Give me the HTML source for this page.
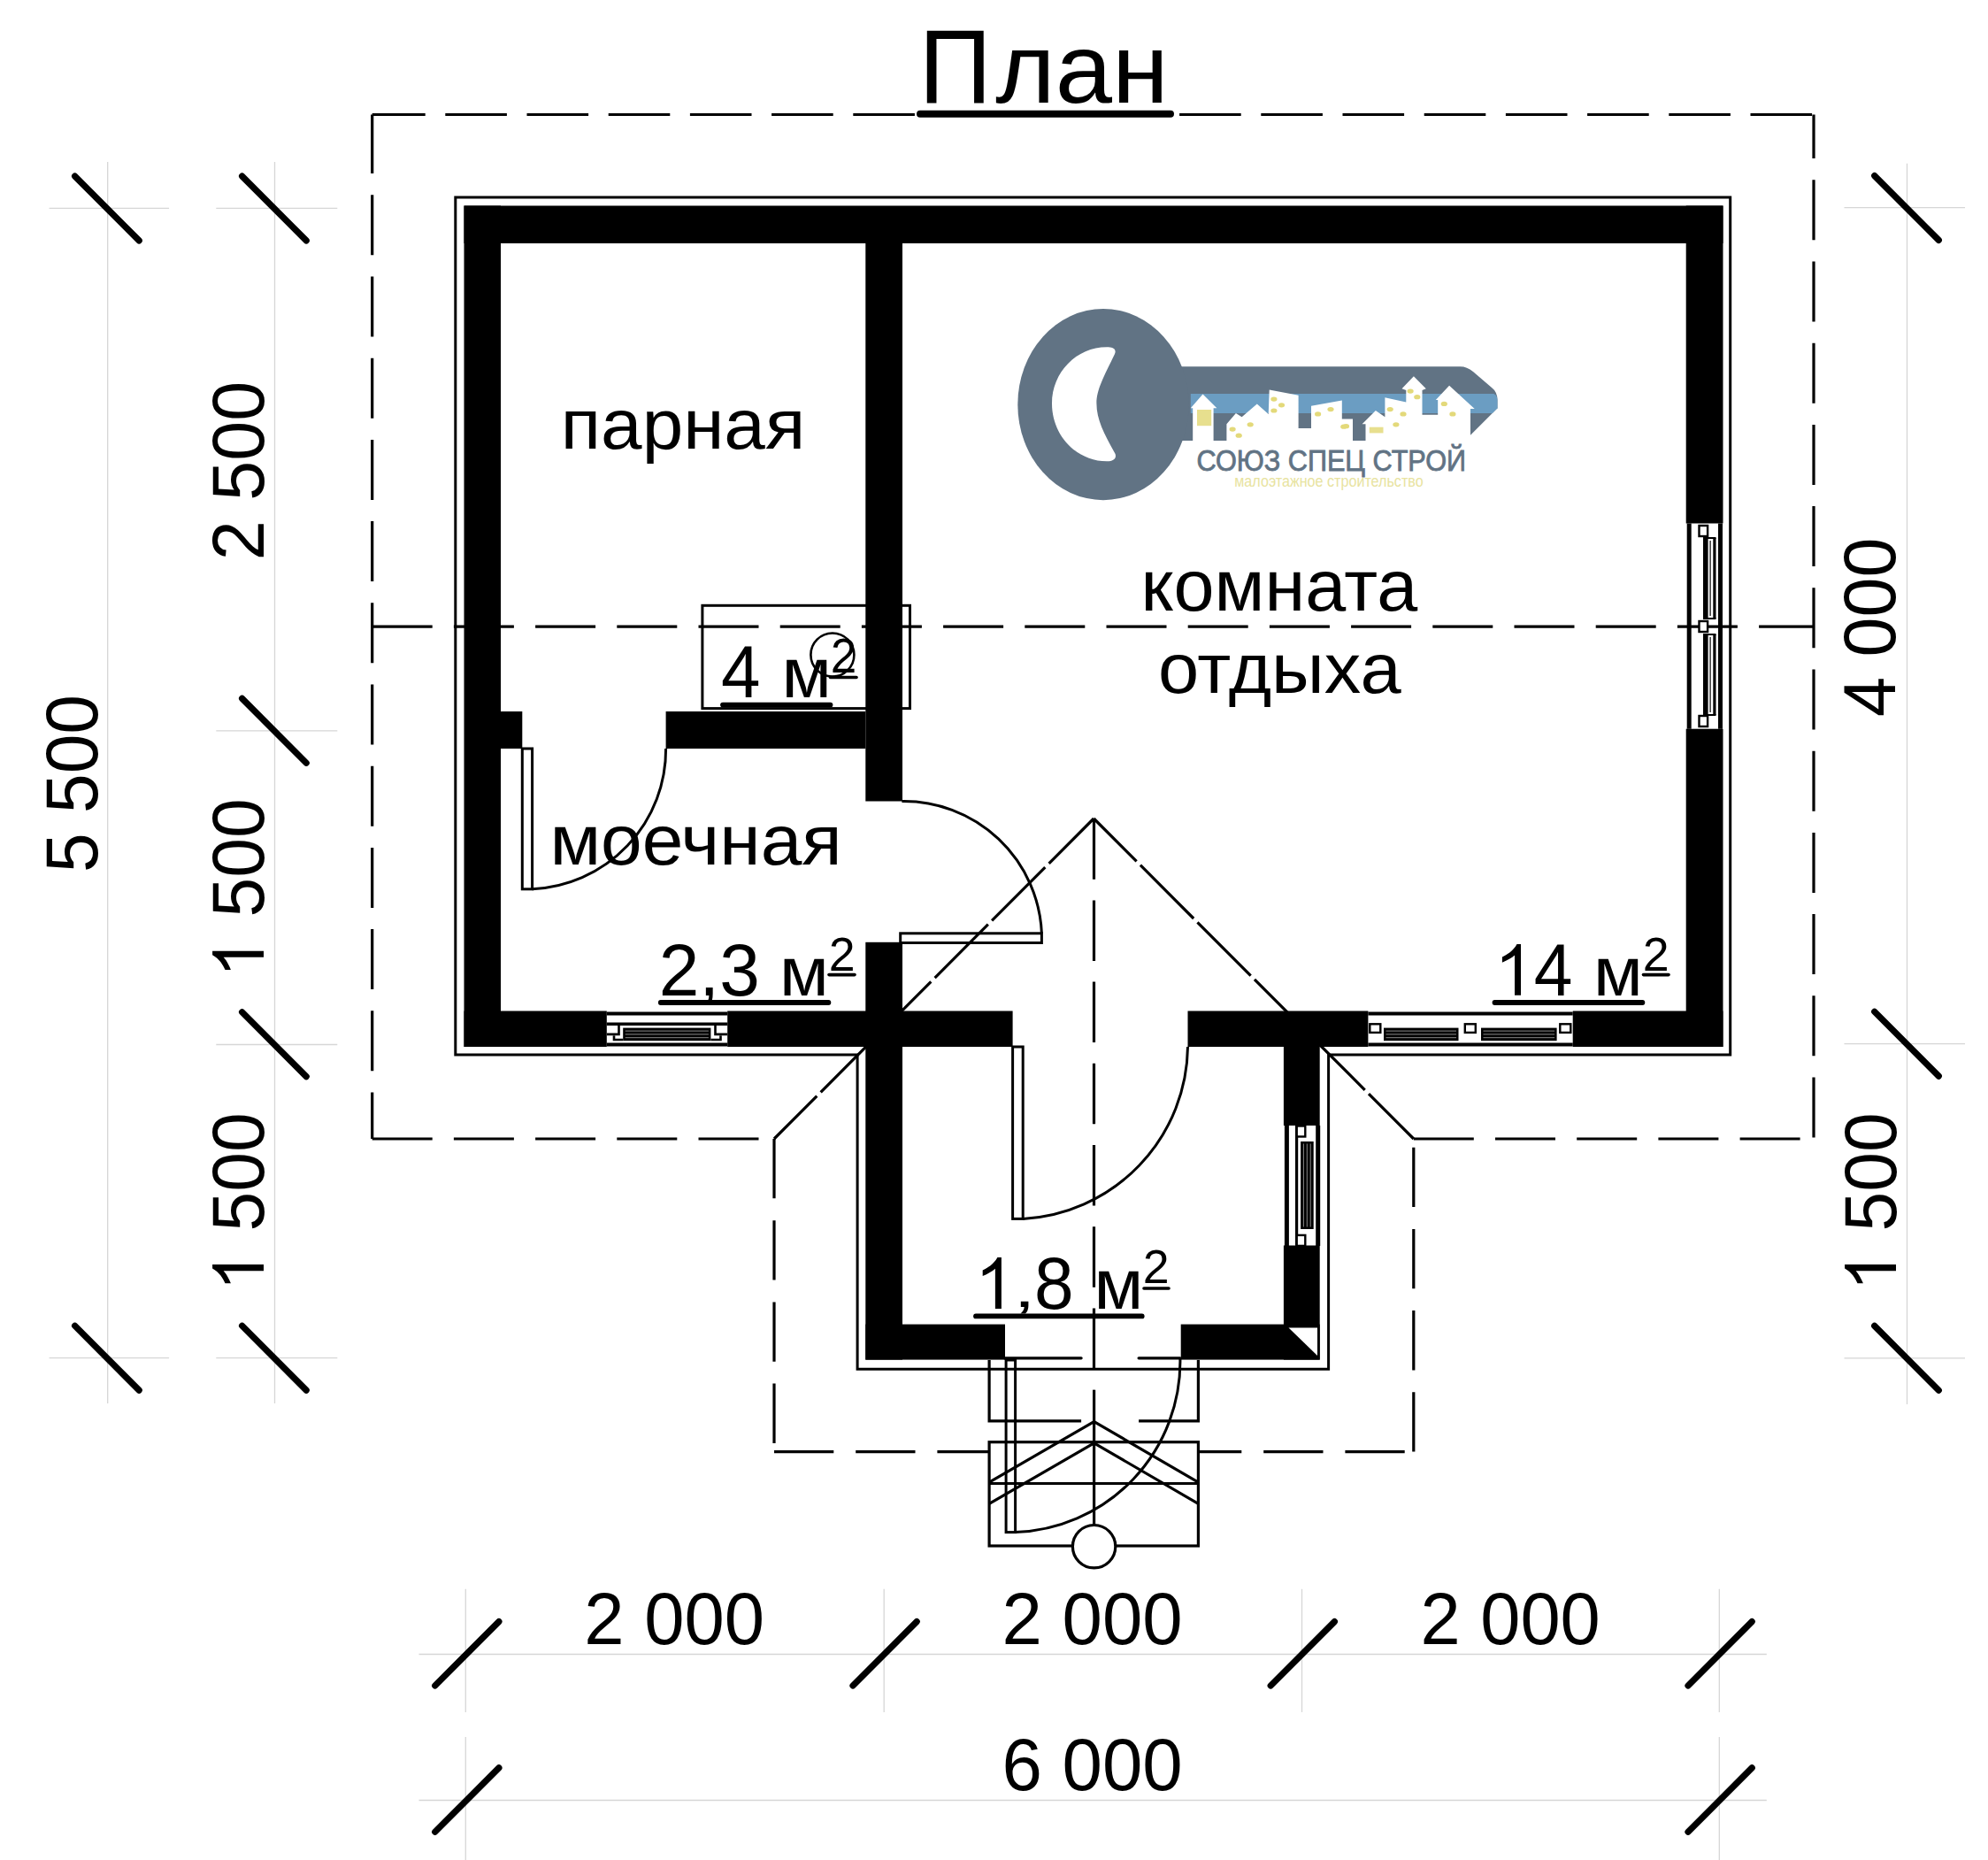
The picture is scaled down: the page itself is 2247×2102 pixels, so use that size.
<!DOCTYPE html><html><head><meta charset="utf-8"><style>html,body{margin:0;padding:0;background:#fff;}svg{display:block;}text{font-family:"Liberation Sans",sans-serif;}</style></head><body>
<svg width="2247" height="2102" viewBox="0 0 2247 2102">
<rect x="0" y="0" width="2247" height="2102" fill="#fff"/>
<g stroke="#d6d6d6" stroke-width="1.3" fill="none">
<line x1="121.7" y1="183" x2="121.7" y2="1586"/>
<line x1="310.5" y1="183" x2="310.5" y2="1586"/>
<line x1="2155.5" y1="184.7" x2="2155.5" y2="1587"/>
<line x1="55.6" y1="235.3" x2="191.1" y2="235.3"/>
<line x1="55.6" y1="1534.7" x2="191.1" y2="1534.7"/>
<line x1="244.3" y1="235.3" x2="381.3" y2="235.3"/>
<line x1="244.3" y1="825.8" x2="381.3" y2="825.8"/>
<line x1="244.3" y1="1180.5" x2="381.3" y2="1180.5"/>
<line x1="244.3" y1="1534.7" x2="381.3" y2="1534.7"/>
<line x1="2084.5" y1="234.7" x2="2221" y2="234.7"/>
<line x1="2084.5" y1="1179.7" x2="2221" y2="1179.7"/>
<line x1="2084.5" y1="1534.8" x2="2221" y2="1534.8"/>
<line x1="473.5" y1="1869.5" x2="1996.8" y2="1869.5"/>
<line x1="473.5" y1="2034.5" x2="1996.8" y2="2034.5"/>
<line x1="526.3" y1="1795.8" x2="526.3" y2="1934.9"/>
<line x1="999.2" y1="1795.8" x2="999.2" y2="1934.9"/>
<line x1="1471.5" y1="1795.8" x2="1471.5" y2="1934.9"/>
<line x1="1943.3" y1="1795.8" x2="1943.3" y2="1934.9"/>
<line x1="526.3" y1="1963" x2="526.3" y2="2102"/>
<line x1="1943.3" y1="1963" x2="1943.3" y2="2102"/>
</g>
<g stroke="#000" stroke-width="7.2" stroke-linecap="round">
<line x1="84.6" y1="199.1" x2="157.2" y2="271.9"/>
<line x1="84.6" y1="1498.3" x2="157.2" y2="1571.1"/>
<line x1="273.6" y1="199.1" x2="346.2" y2="271.9"/>
<line x1="273.6" y1="789.4" x2="346.2" y2="862.2"/>
<line x1="273.6" y1="1143.8" x2="346.2" y2="1216.6"/>
<line x1="273.6" y1="1498.3" x2="346.2" y2="1571.1"/>
<line x1="2118.7" y1="198.6" x2="2191.3" y2="271.4"/>
<line x1="2118.7" y1="1143.3" x2="2191.3" y2="1216.1"/>
<line x1="2118.7" y1="1498.4" x2="2191.3" y2="1571.2"/>
<line x1="491.7" y1="1905.0" x2="563.9" y2="1832.6"/>
<line x1="964.0" y1="1905.0" x2="1036.2" y2="1832.6"/>
<line x1="1436.2" y1="1905.0" x2="1508.4" y2="1832.6"/>
<line x1="1908.0" y1="1905.0" x2="1980.2" y2="1832.6"/>
<line x1="491.7" y1="2070.3" x2="563.9" y2="1997.9"/>
<line x1="1908.0" y1="2070.3" x2="1980.2" y2="1997.9"/>
</g>
<g stroke="#000" stroke-width="3.2" fill="none">
<line x1="420.7" y1="129.5" x2="2050" y2="129.5" stroke-dasharray="69.6 22.6" stroke-dashoffset="9.6"/>
<line x1="420.7" y1="129.5" x2="420.7" y2="1287" stroke-dasharray="68 24.2" stroke-dashoffset="1.4"/>
<line x1="2050" y1="129.5" x2="2050" y2="1287" stroke-dasharray="68 24.2" stroke-dashoffset="18.4"/>
<line x1="420.7" y1="708.2" x2="2050" y2="708.2" stroke-dasharray="68 24.2" stroke-dashoffset="0"/>
<line x1="420.7" y1="1287" x2="857.5" y2="1287" stroke-dasharray="68 24.2" stroke-dashoffset="0"/>
<line x1="1597.8" y1="1287" x2="2035" y2="1287" stroke-dasharray="68 24.2" stroke-dashoffset="0"/>
<line x1="875" y1="1287" x2="875" y2="1640.6" stroke-dasharray="67.3 24.9" stroke-dashoffset="0"/>
<line x1="875" y1="1640.6" x2="1597.8" y2="1640.6" stroke-dasharray="67.3 24.9" stroke-dashoffset="0"/>
<line x1="1597.8" y1="1640.6" x2="1597.8" y2="1287" stroke-dasharray="67.3 24.9" stroke-dashoffset="0"/>
<line x1="875" y1="1287" x2="1236.3" y2="925" stroke-dasharray="68.4 6.1 85.2 6.1 85.2 6.1 85.2 6.1 85.2 6.1 85.2 6.1 85.2 6.1 85.2 6.1 85.2 6.1" stroke-dashoffset="0"/>
<line x1="1236.3" y1="925" x2="1597.8" y2="1287" stroke-dasharray="68.4 6.1 85.2 6.1 85.2 6.1 85.2 6.1 85.2 6.1 85.2 6.1 85.2 6.1 85.2 6.1 85.2 6.1" stroke-dashoffset="0"/>
<line x1="1236.5" y1="925.2" x2="1236.5" y2="1548.4" stroke-dasharray="68.5 23.7" stroke-dashoffset="0"/>
</g>
<line x1="1236.5" y1="1570.8" x2="1236.5" y2="1723" stroke="#000" stroke-width="3"/>
<rect x="793.9" y="684.3" width="234.6" height="116.3" fill="none" stroke="#000" stroke-width="3"/>
<circle cx="940.9" cy="740" r="24.5" fill="none" stroke="#000" stroke-width="2.6"/>
<path d="M514.8,223 L1955.7,223 L1955.7,1192 L1501.6,1192 L1501.6,1547.3 L969.1,1547.3 L969.1,1192 L514.8,1192 Z" fill="none" stroke="#000" stroke-width="3"/>
<g fill="#000">
<rect x="524.5" y="232.5" width="1423.0" height="42.5"/>
<rect x="524.5" y="232.5" width="41.5" height="950.5"/>
<rect x="1905.7" y="232.5" width="41.8" height="359.0"/>
<rect x="1905.7" y="823.7" width="41.8" height="359.3"/>
<rect x="524.5" y="1142.5" width="161.3" height="40.5"/>
<rect x="822.2" y="1142.5" width="322.4" height="40.5"/>
<rect x="1342.5" y="1142.5" width="203.9" height="40.5"/>
<rect x="1777.7" y="1142.5" width="169.8" height="40.5"/>
<rect x="978.3" y="271" width="41.7" height="634.5"/>
<rect x="978.3" y="1064.8" width="41.7" height="471.8"/>
<rect x="752.6" y="804" width="225.7" height="42.0"/>
<rect x="566" y="804" width="24.3" height="42.0"/>
<rect x="978.3" y="1496.6" width="157.7" height="40.0"/>
<rect x="1334.7" y="1496.6" width="157.0" height="40.0"/>
<rect x="1450.9" y="1183" width="40.8" height="89.0"/>
<rect x="1450.9" y="1407.5" width="40.8" height="129.1"/>
</g>
<path d="M1456.5,1500.5 L1489,1500.5 L1489,1532 Z" fill="#fff"/>
<g stroke="#000" fill="none">
<line x1="685.8" y1="1145.4" x2="822.2" y2="1145.4" stroke-width="4"/>
<line x1="685.8" y1="1157.2" x2="822.2" y2="1157.2" stroke-width="3.6"/>
<line x1="685.8" y1="1180.6" x2="822.2" y2="1180.6" stroke-width="4"/>
</g>
<rect x="704.2" y="1161.6" width="99.2" height="14.6" fill="#000"/>
<line x1="706.7" y1="1165.1" x2="800.9" y2="1165.1" stroke="#9a9a9a" stroke-width="0.9"/>
<line x1="706.7" y1="1168.9" x2="800.9" y2="1168.9" stroke="#9a9a9a" stroke-width="0.9"/>
<line x1="706.7" y1="1172.7" x2="800.9" y2="1172.7" stroke="#9a9a9a" stroke-width="0.9"/>
<path d="M699.5,1156 L699.5,1168.9 L686,1168.9 M694,1170.6 L694,1175 L704.2,1175 M808.5,1156 L808.5,1168.9 L822,1168.9 M814.5,1170.6 L814.5,1175 L803.4,1175" fill="none" stroke="#000" stroke-width="2.6"/>
<g stroke="#000" fill="none">
<line x1="1546.4" y1="1145.4" x2="1777.7" y2="1145.4" stroke-width="4"/>
<line x1="1546.4" y1="1180.6" x2="1777.7" y2="1180.6" stroke-width="4"/>
</g>
<rect x="1564" y="1161.6" width="84.5" height="14.6" fill="#000"/>
<line x1="1566.5" y1="1165.1" x2="1646.0" y2="1165.1" stroke="#9a9a9a" stroke-width="0.9"/>
<line x1="1566.5" y1="1168.9" x2="1646.0" y2="1168.9" stroke="#9a9a9a" stroke-width="0.9"/>
<line x1="1566.5" y1="1172.7" x2="1646.0" y2="1172.7" stroke="#9a9a9a" stroke-width="0.9"/>
<rect x="1674" y="1161.6" width="85.6" height="14.6" fill="#000"/>
<line x1="1676.5" y1="1165.1" x2="1757.1" y2="1165.1" stroke="#9a9a9a" stroke-width="0.9"/>
<line x1="1676.5" y1="1168.9" x2="1757.1" y2="1168.9" stroke="#9a9a9a" stroke-width="0.9"/>
<line x1="1676.5" y1="1172.7" x2="1757.1" y2="1172.7" stroke="#9a9a9a" stroke-width="0.9"/>
<rect x="1548.3" y="1157.3" width="12" height="9.6" fill="#fff" stroke="#000" stroke-width="2.4"/>
<rect x="1655.8" y="1157.3" width="12" height="9.6" fill="#fff" stroke="#000" stroke-width="2.4"/>
<rect x="1763.3" y="1157.3" width="12" height="9.6" fill="#fff" stroke="#000" stroke-width="2.4"/>
<g stroke="#000" fill="none">
<line x1="1909.2" y1="591.5" x2="1909.2" y2="823.7" stroke-width="5"/>
<line x1="1944.5" y1="591.5" x2="1944.5" y2="823.7" stroke-width="5"/>
</g>
<rect x="1925.0" y="608" width="5.6" height="91.0" fill="#000"/>
<rect x="1936.3" y="608" width="3.2" height="91.0" fill="#000"/>
<line x1="1933.1000000000001" y1="611" x2="1933.1000000000001" y2="696" stroke="#000" stroke-width="1.2"/>
<path d="M1925.0,608 L1939.5,608 M1925.0,699 L1939.5,699" stroke="#000" stroke-width="2"/>
<rect x="1925.0" y="717" width="5.6" height="91.0" fill="#000"/>
<rect x="1936.3" y="717" width="3.2" height="91.0" fill="#000"/>
<line x1="1933.1000000000001" y1="720" x2="1933.1000000000001" y2="805" stroke="#000" stroke-width="1.2"/>
<path d="M1925.0,717 L1939.5,717 M1925.0,808 L1939.5,808" stroke="#000" stroke-width="2"/>
<rect x="1920.5" y="594" width="9.6" height="12" fill="#fff" stroke="#000" stroke-width="2.4"/>
<rect x="1920.5" y="702" width="9.6" height="12" fill="#fff" stroke="#000" stroke-width="2.4"/>
<rect x="1920.5" y="809" width="9.6" height="12" fill="#fff" stroke="#000" stroke-width="2.4"/>
<g stroke="#000" fill="none">
<line x1="1454.4" y1="1272" x2="1454.4" y2="1407.9" stroke-width="5"/>
<line x1="1465.6000000000001" y1="1272" x2="1465.6000000000001" y2="1407.9" stroke-width="3.2"/>
<line x1="1489.7" y1="1272" x2="1489.7" y2="1407.9" stroke-width="5"/>
</g>
<rect x="1470.1000000000001" y="1290" width="14.6" height="99.0" fill="#000"/>
<line x1="1473.4" y1="1292.5" x2="1473.4" y2="1386.5" stroke="#9a9a9a" stroke-width="0.9"/>
<line x1="1477.3000000000002" y1="1292.5" x2="1477.3000000000002" y2="1386.5" stroke="#9a9a9a" stroke-width="0.9"/>
<line x1="1481.2" y1="1292.5" x2="1481.2" y2="1386.5" stroke="#9a9a9a" stroke-width="0.9"/>
<rect x="1465.7" y="1272.5" width="9.6" height="12" fill="#fff" stroke="#000" stroke-width="2.4"/>
<rect x="1465.7" y="1395.9" width="9.6" height="12" fill="#fff" stroke="#000" stroke-width="2.4"/>
<g stroke="#000" stroke-width="3.2" fill="none">
<path d="M1118.1,1537 L1118.1,1605.8 L1222.1,1605.8 M1287.1,1605.8 L1354.4,1605.8 L1354.4,1537"/>
<line x1="1135.5" y1="1534.8" x2="1222.1" y2="1534.8" stroke-linecap="round"/>
<line x1="1287.1" y1="1534.8" x2="1333.9" y2="1534.8" stroke-linecap="round"/>
<rect x="1118.1" y="1629.7" width="236.3" height="117.3" fill="#fff"/>
<line x1="1118.1" y1="1676.5" x2="1354.4" y2="1676.5"/>
<polyline points="1118.1,1675.2 1236.6,1606.6 1354.4,1675.2"/>
<polyline points="1118.1,1699.4 1236.6,1630.8 1354.4,1699.4"/>
<line x1="1236.6" y1="1570.8" x2="1236.6" y2="1723"/>
<circle cx="1236.6" cy="1747.7" r="24.2" fill="#fff"/>
</g>
<g stroke="#000" stroke-width="3" fill="none">
<rect x="590.3" y="846" width="11.3" height="158.8"/>
<rect x="1017.7" y="1054.8" width="159.7" height="10.7"/>
<rect x="1144.6" y="1183" width="11.6" height="194.4"/>
</g>
<g stroke="#000" stroke-width="3" fill="none">
<rect x="1137.1" y="1537" width="10.5" height="194.6"/>
<path d="M752.6,846 A158,158 0 0 1 601.6,1004.8"/>
<path d="M1019.4,905.5 A156,156 0 0 1 1177.4,1054.8"/>
<path d="M1342.5,1183 A197,197 0 0 1 1156.2,1377.4"/>
<path d="M1333.9,1535.6 A193,193 0 0 1 1147.6,1731.6"/>
</g>
<g stroke="#000" stroke-linecap="round">
<line x1="1040" y1="128.8" x2="1323" y2="128.8" stroke-width="8"/>
<line x1="817" y1="796.6" x2="938.5" y2="796.6" stroke-width="5.8"/>
<line x1="746.8" y1="1133" x2="936.4" y2="1133" stroke-width="5.8"/>
<line x1="1689.5" y1="1133" x2="1856.4" y2="1133" stroke-width="5.8"/>
<line x1="1103" y1="1487.4" x2="1290.7" y2="1487.4" stroke-width="5.8"/>
<line x1="938.5" y1="765.5" x2="968" y2="765.5" stroke-width="3.6"/>
<line x1="937" y1="1101.6" x2="966" y2="1101.6" stroke-width="3.6"/>
<line x1="1857.5" y1="1101.6" x2="1886" y2="1101.6" stroke-width="3.6"/>
<line x1="1293" y1="1456" x2="1321" y2="1456" stroke-width="3.6"/>
</g>
<g>
<text transform="translate(1038.43,116.30) scale(0.9713,1)" font-size="117.88" font-weight="normal" fill="#000" >П</text>
<text transform="translate(1125.22,116.30) scale(1.0348,1)" font-size="111.74" font-weight="normal" fill="#000" >лан</text>
<text transform="translate(633.83,507.10) scale(1.0468,1)" font-size="79.92" font-weight="normal" fill="#000" >парная</text>
<text transform="translate(1289.46,690.20) scale(1.0256,1)" font-size="80.68" font-weight="normal" fill="#000" >комната</text>
<text transform="translate(1309.01,783.10) scale(1.0466,1)" font-size="79.36" font-weight="normal" fill="#000" >отдыха</text>
<text transform="translate(621.41,977.00) scale(1.0622,1)" font-size="78.98" font-weight="normal" fill="#000" >моечная</text>
<text transform="translate(815.06,787.70) scale(0.9567,1)" font-size="83.58" font-weight="normal" fill="#000" >4</text>
<text transform="translate(883.54,787.70) scale(1.0358,1)" font-size="79.17" font-weight="normal" fill="#000" >м</text>
<text transform="translate(744.80,1124.80) scale(0.9896,1)" font-size="82.81" font-weight="normal" fill="#000" >2,3</text>
<text transform="translate(881.00,1124.80) scale(1.0317,1)" font-size="78.60" font-weight="normal" fill="#000" >м</text>
<path transform="translate(1697.90,1124.80) scale(57.700)" d="M0.2882,-1 L0.3658,-1 L0.3658,0 L0.2448,0 L0.2448,-0.7830 C0.19,-0.735 0.10,-0.68 0,-0.6406 L0,-0.7517 C0.09,-0.79 0.22,-0.87 0.2882,-1 Z" fill="#000"/>
<text transform="translate(1733.69,1124.90) scale(0.9336,1)" font-size="84.16" font-weight="normal" fill="#000" >4</text>
<text transform="translate(1801.00,1124.90) scale(1.0317,1)" font-size="78.60" font-weight="normal" fill="#000" >м</text>
<path transform="translate(1110.70,1479.00) scale(57.900)" d="M0.2882,-1 L0.3658,-1 L0.3658,0 L0.2448,0 L0.2448,-0.7830 C0.19,-0.735 0.10,-0.68 0,-0.6406 L0,-0.7517 C0.09,-0.79 0.22,-0.87 0.2882,-1 Z" fill="#000"/>
<text transform="translate(1145.42,1477.06) scale(1.5866,1)" font-size="56.60" fill="#000">,</text>
<text transform="translate(1168.95,1478.67) scale(0.9658,1)" font-size="83.05" fill="#000">8</text>
<text transform="translate(1236.60,1479.00) scale(1.0219,1)" font-size="79.36" font-weight="normal" fill="#000" >м</text>
<text transform="translate(938.85,759.60) scale(0.9450,1)" font-size="56.16" font-weight="normal" fill="#000" >2</text>
<text transform="translate(936.71,1096.50) scale(1.0108,1)" font-size="53.15" font-weight="normal" fill="#000" >2</text>
<text transform="translate(1856.71,1096.60) scale(0.9948,1)" font-size="54.01" font-weight="normal" fill="#000" >2</text>
<text transform="translate(1291.71,1450.30) scale(1.0108,1)" font-size="53.15" font-weight="normal" fill="#000" >2</text>
<text transform="translate(660.23,1858.37) scale(0.9805,1)" font-size="83.05" fill="#000">2 000</text>
<text transform="translate(1132.52,1857.77) scale(0.9792,1)" font-size="83.33" fill="#000">2 000</text>
<text transform="translate(1605.44,1858.17) scale(0.9752,1)" font-size="83.33" fill="#000">2 000</text>
<text transform="translate(1132.44,2022.77) scale(0.9846,1)" font-size="82.91" fill="#000">6 000</text>
<text transform="translate(109.77,986.12) rotate(-90) scale(0.9697,1)" font-size="82.91">5 500</text>
<text transform="translate(297.67,633.35) rotate(-90) scale(0.9795,1)" font-size="82.63">2 500</text>
<text transform="translate(297.77,1036.42) rotate(-90) scale(0.9734,1)" font-size="82.63">500</text>
<path transform="translate(298.00,1095.90) rotate(-90) scale(57.900)" d="M0.2882,-1 L0.3658,-1 L0.3658,0 L0.2448,0 L0.2448,-0.7830 C0.19,-0.735 0.10,-0.68 0,-0.6406 L0,-0.7517 C0.09,-0.79 0.22,-0.87 0.2882,-1 Z" fill="#000"/>
<text transform="translate(297.77,1391.42) rotate(-90) scale(0.9734,1)" font-size="82.63">500</text>
<path transform="translate(298.00,1450.30) rotate(-90) scale(57.900)" d="M0.2882,-1 L0.3658,-1 L0.3658,0 L0.2448,0 L0.2448,-0.7830 C0.19,-0.735 0.10,-0.68 0,-0.6406 L0,-0.7517 C0.09,-0.79 0.22,-0.87 0.2882,-1 Z" fill="#000"/>
<text transform="translate(2142.38,809.96) rotate(-90) scale(0.9813,1)" font-size="82.49">4 000</text>
<text transform="translate(2142.77,1391.42) rotate(-90) scale(0.9734,1)" font-size="82.63">500</text>
<path transform="translate(2143.00,1450.30) rotate(-90) scale(57.900)" d="M0.2882,-1 L0.3658,-1 L0.3658,0 L0.2448,0 L0.2448,-0.7830 C0.19,-0.735 0.10,-0.68 0,-0.6406 L0,-0.7517 C0.09,-0.79 0.22,-0.87 0.2882,-1 Z" fill="#000"/>
</g>
<g>
<path d="M1320,414.3 L1650.5,414.3 Q1658,414.3 1665,420 L1686,438 Q1692.5,443 1692.5,452 L1692.5,461.2 L1662,491.8 L1662,498 L1339.6,498 L1320,498 Z" fill="#617384"/>
<path d="M1345.8,444.9 L1688.5,444.9 Q1692.5,447 1692.5,452 L1692.5,461.2 L1686.8,466.9 L1345.8,466.9 Z" fill="#6b9dc2"/>
<ellipse cx="1247" cy="457.1" rx="96.7" ry="108.1" fill="#617384"/>
<path d="M1251,392.3 C1216.8,392.3 1189,420.8 1189,456 C1189,492.1 1216.8,521.3 1251,521.3 C1257,521.5 1262.5,519 1260.6,513 C1249,492 1239.4,475 1239.4,456 C1239.4,440 1248,425 1260,400 C1262.5,394 1257,392.3 1251,392.3 Z" fill="#fff"/>
<path fill="#fff" d="M1348.2,505 L1348.2,461.2 L1345.8,461.2 L1359.5,445.4 L1375.4,461.2 L1371.6,461.2 L1371.6,505 Z M1386.4,505 L1386.4,479.3 L1396.9,466.9 L1403.6,471.2 L1420.8,456.4 L1433.7,467.9 L1434.7,440.6 L1467.6,446.8 L1467.6,484.1 L1482,484.1 L1482,458.8 L1516.8,452.6 L1516.8,473.6 L1529,473.6 L1529,505 Z M1543.5,505 L1543.5,479.3 L1539.6,479.3 L1554.9,464 L1565.4,471.2 L1565.4,449.2 L1589.3,454.5 L1589.3,441.1 L1584.5,439.2 L1597.9,425.3 L1611.8,439.2 L1607.5,441.1 L1607.5,468.8 L1625.2,468.8 L1625.2,452.1 L1622.8,452.1 L1638.1,435.8 L1666.7,462.1 L1662,462.1 L1662,505 Z"/>
<rect x="1353" y="463" width="16.2" height="18.2" fill="#e3d97a" opacity="0.85"/>
<rect x="1547.8" y="482.7" width="15.7" height="6.7" fill="#e3d97a" opacity="0.85"/>
<ellipse cx="1439.9" cy="451.1" rx="3.6" ry="2.6" fill="#e3d97a"/>
<ellipse cx="1448.5" cy="457.8" rx="3.6" ry="2.6" fill="#e3d97a"/>
<ellipse cx="1439.9" cy="464" rx="3.6" ry="2.6" fill="#e3d97a"/>
<ellipse cx="1413.2" cy="479.8" rx="3.6" ry="2.6" fill="#e3d97a"/>
<ellipse cx="1393.1" cy="485.1" rx="3.6" ry="2.6" fill="#e3d97a"/>
<ellipse cx="1400.2" cy="492.2" rx="3.6" ry="2.6" fill="#e3d97a"/>
<ellipse cx="1489.6" cy="467.9" rx="3.6" ry="2.6" fill="#e3d97a"/>
<ellipse cx="1504" cy="462.6" rx="3.6" ry="2.6" fill="#e3d97a"/>
<ellipse cx="1518.8" cy="482.2" rx="3.6" ry="2.6" fill="#e3d97a"/>
<ellipse cx="1594.1" cy="442.1" rx="3.6" ry="2.6" fill="#e3d97a"/>
<ellipse cx="1601.8" cy="448.7" rx="3.6" ry="2.6" fill="#e3d97a"/>
<ellipse cx="1571.2" cy="462.6" rx="3.6" ry="2.6" fill="#e3d97a"/>
<ellipse cx="1586" cy="467.9" rx="3.6" ry="2.6" fill="#e3d97a"/>
<ellipse cx="1577.9" cy="479.8" rx="3.6" ry="2.6" fill="#e3d97a"/>
<ellipse cx="1632.3" cy="456.4" rx="3.6" ry="2.6" fill="#e3d97a"/>
<ellipse cx="1641.9" cy="467.9" rx="3.6" ry="2.6" fill="#e3d97a"/>
<ellipse cx="1521.5" cy="481.7" rx="3.6" ry="2.6" fill="#e3d97a"/>
<text transform="translate(1352.54,531.90) scale(0.9456,1)" font-size="32.41" font-weight="normal" fill="#617384" stroke="#617384" stroke-width="0.8">СОЮЗ СПЕЦ СТРОЙ</text>
<text transform="translate(1395.29,549.80) scale(0.8518,1)" font-size="18.94" font-weight="normal" fill="#e8e3a0" >малоэтажное строительство</text>
</g>
</svg></body></html>
